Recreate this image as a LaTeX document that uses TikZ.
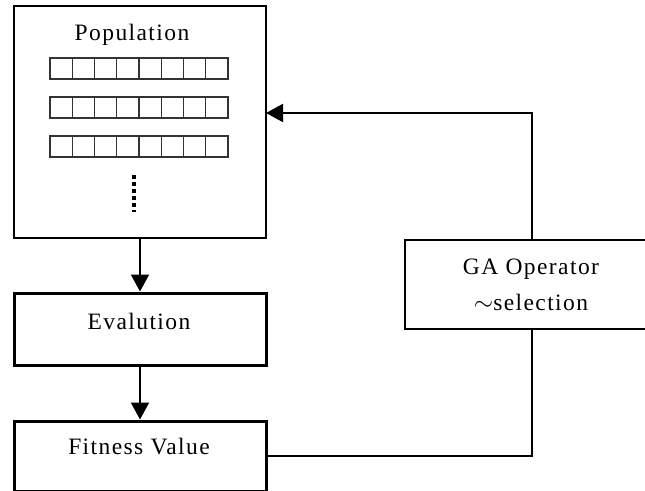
\documentclass[tikz,border=0pt]{standalone}
\usepackage{fontspec}
\setmainfont{Liberation Serif}[LetterSpace=6]
\usetikzlibrary{positioning,arrows.meta}

\begin{document}
\begin{tikzpicture}[
  x=1pt, y=-1pt,
  box/.style={draw, line width=2.6pt, minimum width=252pt, inner sep=0pt},
  label/.style={font=\fontsize{23.5}{36}\selectfont, anchor=base, inner sep=0pt},
  cell/.style={draw=black!80, line width=1.3pt},
  link/.style={line width=2pt},
  >={Triangle[length=17pt,width=18pt]}
]
  \useasboundingbox (0,0) rectangle (645,490);

  % Population
  \node[box, minimum height=232pt] (pop) at (140,122) {};
  \node[label] (poptitle) at (132,40) {Population};
  \foreach \row in {58,97,136} {
    \foreach \i in {0,...,7} {
      \draw[cell] (50+\i*22.25,\row) rectangle ++(22.25,21);
    }
  }
  \draw[line width=3.5pt, dash pattern=on 3.5pt off 3.5pt] (134,175) -- (134,212);

  % Evaluation and fitness
  \node[box, line width=3pt, minimum height=72pt] (eval) at (140,329) {};
  \node[label] (evaltext) at (139,329) {Evalution};
  \node[box, line width=3pt, minimum height=70pt] (fit) at (140,456) {};
  \node[label] (fittext) at (139,454) {Fitness Value};

  % GA operator
  \node[box, line width=2pt, minimum width=254pt, minimum height=89pt] (ga) at (532,284.5) {};
  \node[label] (gatext) at (531,274) {GA Operator};
  \node[label] (seltext) at (531,310) {$\sim$selection};

  % Loop
  \coordinate (back) at (266,113);
  \draw[link, ->] (pop) -- (eval);
  \draw[link, ->] (eval) -- (fit);
  \draw[link] (fit.east) -| (ga.south);
  \draw[link, ->] (ga.north) |- (back);
\end{tikzpicture}
\end{document}
